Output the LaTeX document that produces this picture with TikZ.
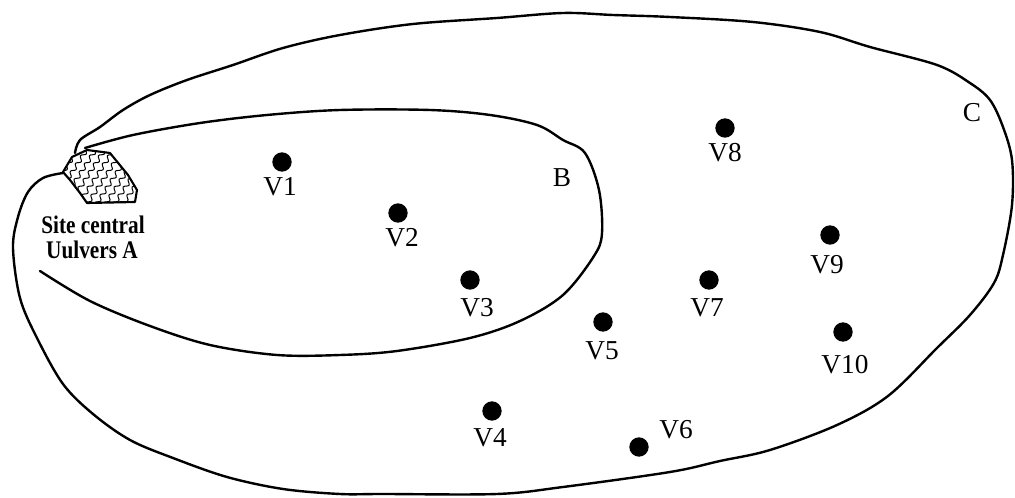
\documentclass[tikz,border=0pt]{standalone}
\usepackage{fontspec}
\setmainfont{Liberation Serif}
\usetikzlibrary{decorations.pathmorphing}
\tikzset{
  region/.style={line width=1.8pt, line join=round, line cap=round},
  vdot/.style={circle, fill=black, inner sep=0pt, minimum size=14.5pt},
  vlab/.style={font=\fontsize{20.5}{24}\selectfont, inner sep=0pt},
  sitelab/.style={font=\fontsize{19}{22}\selectfont\bfseries, inner sep=0pt},
  hatch/.style={line width=0.75pt, decorate, decoration={snake, segment length=7pt, amplitude=1.5pt}}
}
\begin{document}
\begin{tikzpicture}[x=0.75pt, y=-0.75pt]
\useasboundingbox (0,0) rectangle (1015,498);
% outer region C
\draw[region] plot[smooth, tension=0.55] coordinates {
 (75,153) (80,140) (100,127) (123,110) (150,95) (187,80) (233,65) (283,48) (340,35)
 (413,24) (497,18) (563,13) (613,15) (670,17) (753,22) (820,32) (870,47) (937,65)
 (970,83) (990,100) (1003,127) (1012,160) (1012,205) (1003,255) (994,283) (970,315)
 (937,348) (888,396) (837,425) (770,450) (720,461) (670,472) (563,487) (497,494)
 (383,494) (340,494) (283,489) (227,477) (173,458) (130,440) (93,414) (63,384)
 (37,338) (20,298) (13,248) (18,217) (28,192) (43,178) (63,173)};
% inner region B
\draw[region] plot[smooth, tension=0.55] coordinates {
 (85,148) (133,135) (200,123) (267,115) (340,110) (430,110) (490,115) (537,125)
 (563,140) (585,153) (599,190) (602,233) (594,256) (563,295) (520,321) (470,338)
 (397,351) (340,355) (277,355) (210,345) (150,326) (90,301) (40,271)};
% central site A
\begin{scope}
  \clip (63,172) -- (72,157) -- (87,150) -- (110,153) -- (128,175) -- (137,190)
        -- (135,202) -- (87,203) -- (80,193) -- (70,180) -- cycle;
  \foreach \i in {0,...,12}
    \draw[hatch] ({18+\i*9},214) -- ({18+\i*9+48},140);
\end{scope}
\draw[line width=1.6pt, line join=round] (63,172) -- (72,157) -- (87,150) -- (110,153)
  -- (128,175) -- (137,190) -- (135,202) -- (87,203) -- (80,193) -- (70,180) -- cycle;
\node[sitelab] (s1) at (93,225) {\scalebox{0.84}[1]{Site central}};
\node[sitelab] (s2) at (92,250) {\scalebox{0.84}[1]{Uulvers A}};
% region labels
\node[vlab] (lB) at (562,178) {B};
\node[vlab] (lC) at (972,113) {C};
% points
\node[vdot] (v1) at (282,162) {};
\node[vdot] (v2) at (398,213) {};
\node[vdot] (v3) at (470,280) {};
\node[vdot] (v4) at (492,411) {};
\node[vdot] (v5) at (603,322) {};
\node[vdot] (v6) at (639,447) {};
\node[vdot] (v7) at (709,280) {};
\node[vdot] (v8) at (725,128) {};
\node[vdot] (v9) at (830,235) {};
\node[vdot] (v10) at (843,332) {};
\node[vlab] (l1) at (280,187) {V1};
\node[vlab] (l2) at (402,238) {V2};
\node[vlab] (l3) at (477,308) {V3};
\node[vlab] (l4) at (490,438) {V4};
\node[vlab] (l5) at (602,351) {V5};
\node[vlab] (l6) at (676,430) {V6};
\node[vlab] (l7) at (707,308) {V7};
\node[vlab] (l8) at (725,153) {V8};
\node[vlab] (l9) at (827,265) {V9};
\node[vlab] (l10) at (845,365) {V10};
\end{tikzpicture}
\end{document}
